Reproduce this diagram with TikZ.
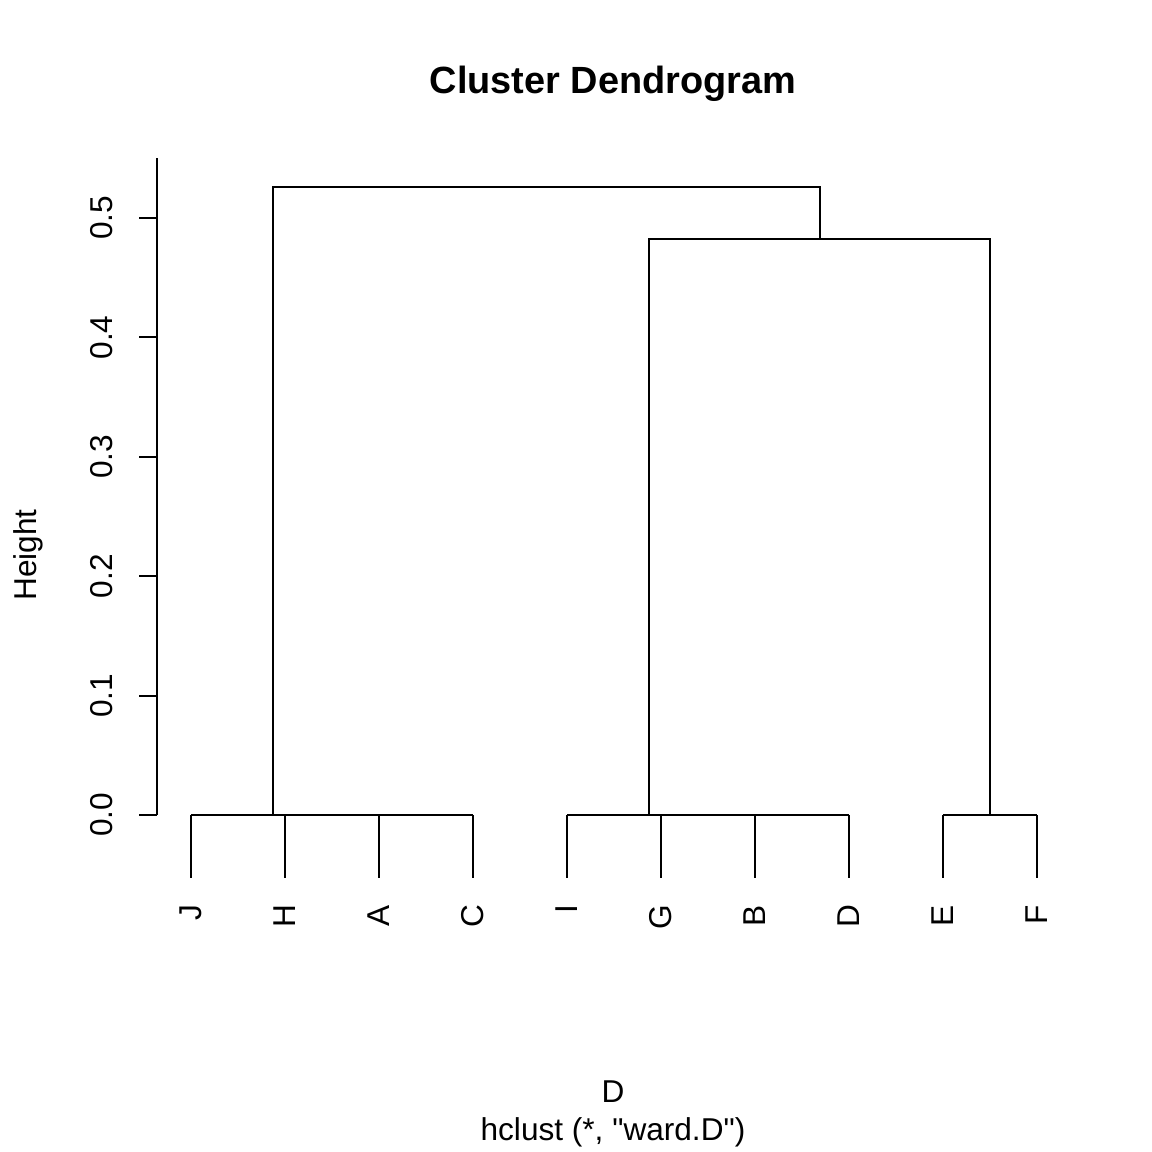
\documentclass[tikz,border=0pt]{standalone}
\usepackage{fontspec}
\setmainfont{Liberation Sans}
\newfontfamily\rawfont{Liberation Sans}
\newcommand{\labsize}{\fontsize{15.8}{19}\selectfont}
\begin{document}
\begin{tikzpicture}[x=0.5pt,y=-0.5pt,line width=1pt,
  leaflab/.style={rotate=90,anchor=east,inner sep=0pt,font=\labsize},
  ticklab/.style={rotate=90,anchor=base,inner sep=0pt,font=\labsize},
  plain/.style={inner sep=0pt,anchor=base,font=\labsize}]
\useasboundingbox (0,0) rectangle (1152,1152);
\node[inner sep=0pt,anchor=base,font=\fontsize{18.95}{23}\selectfont\bfseries] (title) at (613,93) {Cluster Dendrogram};
\coordinate (ytop) at (157,158);
\coordinate (ybot) at (157,815);
\draw (ytop) -- (ybot);
\foreach \i/\v/\y in {0/0.0/815,1/0.1/695.6,2/0.2/576.2,3/0.3/456.8,4/0.4/337.4,5/0.5/218}{
  \coordinate (tk\i) at (157,\y);
  \coordinate (te\i) at (139,\y);
  \draw (tk\i) -- (te\i);
  \node[ticklab] (tl\i) at (112,\y) {\v};
}
\node[ticklab] (ylab) at (36,555) {Height};
\foreach \name/\x in {J/191,H/285,A/379,C/473,I/567,G/661,B/755,D/849,E/943,F/1037}{
  \coordinate (t\name) at (\x,815);
  \coordinate (b\name) at (\x,878);
  \draw (t\name) -- (b\name);
  \node[leaflab] (\name) at (\x,904) {\name};
}
\draw (tJ) -- (tC);
\draw (tI) -- (tD);
\draw (tE) -- (tF);
\coordinate (kL) at (273,815);
\coordinate (kR) at (649,815);
\coordinate (kEF) at (990,815);
\coordinate (mR) at (649,239);
\coordinate (mEF) at (990,239);
\coordinate (mid) at (820,239);
\coordinate (top) at (820,187);
\draw (kR) -- (mR) -- (mEF) -- (kEF);
\draw (kL) |- (top) -- (mid);
\node[plain] (xlab) at (613,1102) {D};
\node[plain,font=\labsize\rawfont] (sub) at (613,1140) {hclust (*, "ward.D")};
\end{tikzpicture}
\end{document}
